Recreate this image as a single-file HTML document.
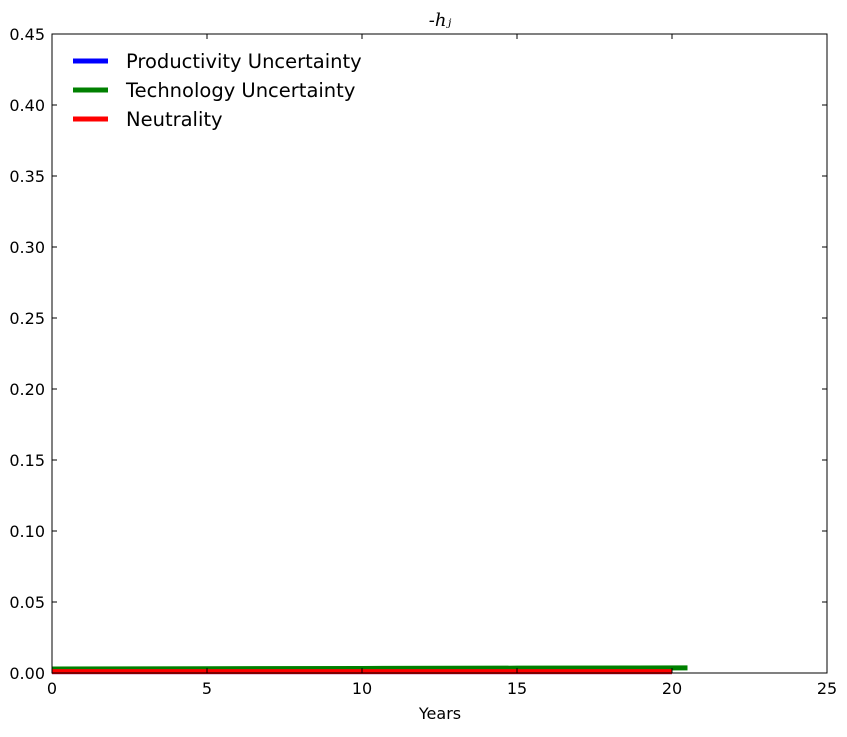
<!DOCTYPE html>
<html><head><meta charset="utf-8"><style>
body{margin:0;background:#fff;}
svg text{font-family:"DejaVu Sans","Liberation Sans",sans-serif;font-size:16px;fill:#000;}
</style></head><body>
<svg id="c" width="847" height="732"></svg>
<script>
const years=[0,5,10,15,20];
const yearsTech=[0,5,10,15,20.5];
const productivity=[0.001,0.001,0.001,0.001,0.001];
const technology=[0.0028,0.003,0.0032,0.0034,0.0036];
const neutrality=[0.001,0.001,0.001,0.001,0.001];
const xTicks=[0,5,10,15,20,25];
const yTicks=[0,0.05,0.1,0.15,0.2,0.25,0.3,0.35,0.4,0.45];
const yLabels=["0.00","0.05","0.10","0.15","0.20","0.25","0.30","0.35","0.40","0.45"];
const L=52,R=827,T=34,B=673;
const X=v=>L+(v/25)*(R-L);
const Y=v=>B-(v/0.45)*(B-T);
const s=document.getElementById('c');const NS='http://www.w3.org/2000/svg';
function el(t,a,p){const e=document.createElementNS(NS,t);for(const k in a)e.setAttribute(k,a[k]);(p||s).appendChild(e);return e;}
function line(xs,ys,c,name){const p=el('polyline',{points:xs.map((x,i)=>X(x)+','+Y(ys[i])).join(' '),fill:'none',stroke:c,'stroke-width':5});

}
line(years,productivity,'#0000ff','series-productivity');
line(yearsTech,technology,'#008000','series-technology');
line(years,neutrality,'#ff0000','series-neutrality');
const fr=el('rect',{x:L,y:T,width:R-L,height:B-T,fill:'none',stroke:'#000','stroke-width':1});


xTicks.forEach(v=>{el('line',{x1:X(v),x2:X(v),y1:B,y2:B-5,stroke:'#000'});el('line',{x1:X(v),x2:X(v),y1:T,y2:T+5,stroke:'#000'});
const t=el('text',{x:X(v),y:B+21,'text-anchor':'middle'});t.textContent=v;

});
yTicks.forEach((v,i)=>{el('line',{x1:L,x2:L+5,y1:Y(v),y2:Y(v),stroke:'#000'});el('line',{x1:R,x2:R-5,y1:Y(v),y2:Y(v),stroke:'#000'});
const t=el('text',{x:L-7,y:Y(v)+6,'text-anchor':'end'});t.textContent=yLabels[i];

});
const xt=el('text',{x:440,y:719,'text-anchor':'middle'});xt.textContent='Years';


const tt=el('text',{x:440,y:26,'text-anchor':'middle','font-style':'italic',style:'font-family:"DejaVu Serif",serif;font-size:18px'});tt.textContent='-hⱼ';


const leg=[['Productivity Uncertainty','#0000ff'],['Technology Uncertainty','#008000'],['Neutrality','#ff0000']];
leg.forEach((d,i)=>{const y=61+i*29;el('line',{x1:73,x2:108,y1:y,y2:y,stroke:d[1],'stroke-width':5});
const t=el('text',{x:126,y:y+7,style:'font-size:19.5px'});t.textContent=d[0];

});
</script>
</body></html>
